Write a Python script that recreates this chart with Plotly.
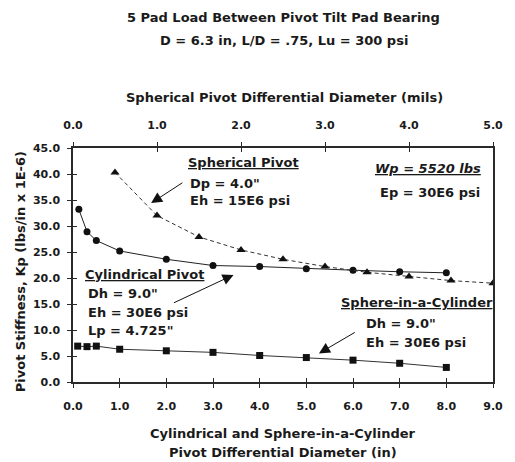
import plotly.graph_objects as go

# ---- data ----
cyl_x = [0.125, 0.3, 0.5, 1.0, 2.0, 3.0, 4.0, 5.0, 6.0, 7.0, 8.0]
cyl_y = [33.2, 28.9, 27.2, 25.2, 23.6, 22.4, 22.2, 21.8, 21.5, 21.2, 21.0]

sph_x = [0.5, 1.0, 1.5, 2.0, 2.5, 3.0, 3.5, 4.0, 4.5, 5.0]
sph_y = [40.3, 32.0, 27.9, 25.4, 23.6, 22.2, 21.1, 20.3, 19.5, 19.0]

sic_x = [0.1, 0.3, 0.5, 1.0, 2.0, 3.0, 4.0, 5.0, 6.0, 7.0, 8.0]
sic_y = [6.9, 6.8, 6.9, 6.3, 6.0, 5.7, 5.1, 4.7, 4.2, 3.6, 2.8]

title1 = "5 Pad Load Between Pivot Tilt Pad Bearing"
title2 = "D = 6.3 in, L/D = .75, Lu = 300 psi"
top_title = "Spherical Pivot Differential Diameter (mils)"
bot_title1 = "Cylindrical and Sphere-in-a-Cylinder"
bot_title2 = "Pivot Differential Diameter (in)"
y_title = "Pivot Stiffness, Kp (lbs/in x 1E-6)"

FONT = "DejaVu Sans"
TXT = "#1a1a1a"
AX = "#2a2a2a"

fig = go.Figure()

fig.add_trace(go.Scatter(x=cyl_x, y=cyl_y, mode="lines+markers",
                         line=dict(color="#222", width=1),
                         marker=dict(symbol="circle", size=7, color="#111"),
                         xaxis="x", yaxis="y", showlegend=False))
fig.add_trace(go.Scatter(x=sic_x, y=sic_y, mode="lines+markers",
                         line=dict(color="#333", width=1),
                         marker=dict(symbol="square", size=7, color="#111"),
                         xaxis="x", yaxis="y", showlegend=False))
fig.add_trace(go.Scatter(x=sph_x, y=sph_y, mode="lines+markers",
                         line=dict(color="#333", width=1, dash="4px,3px"),
                         marker=dict(symbol="triangle-up", size=8, color="#111"),
                         xaxis="x2", yaxis="y", showlegend=False))
# dummy traces for inner tick overlays
fig.add_trace(go.Scatter(x=[None], y=[None], xaxis="x3", yaxis="y2", showlegend=False))
fig.add_trace(go.Scatter(x=[None], y=[None], xaxis="x4", yaxis="y2", showlegend=False))

tickfont = dict(family=FONT, size=11, color=TXT, weight="bold")
common = dict(showgrid=False, zeroline=False, tickfont=tickfont, tickcolor=AX,
              linecolor=AX, linewidth=1.5, tickwidth=1)

fig.update_layout(
    width=515, height=462,
    margin=dict(l=73, r=12, t=148, b=80),
    paper_bgcolor="white", plot_bgcolor="white",
    xaxis=dict(range=[0, 9], dtick=1, tickformat=".1f", showline=True,
               ticks="outside", ticklen=4, ticklabelstandoff=9, **common),
    xaxis2=dict(range=[0, 5], dtick=1, tickformat=".1f", showline=True,
                overlaying="x", side="top", anchor="y",
                ticks="outside", ticklen=4, ticklabelstandoff=9, **common),
    xaxis3=dict(range=[0, 9], dtick=1, overlaying="x", side="bottom", anchor="y2",
                ticks="inside", ticklen=4, showticklabels=False, showline=False,
                showgrid=False, zeroline=False, tickcolor=AX),
    xaxis4=dict(range=[0, 5], dtick=1, overlaying="x", side="top", anchor="y2",
                ticks="inside", ticklen=4, showticklabels=False, showline=False,
                showgrid=False, zeroline=False, tickcolor=AX),
    yaxis=dict(range=[0, 45], dtick=5, tickformat=".1f", showline=True,
               mirror=True, ticks="outside", ticklen=4, ticklabelstandoff=5, **common),
    yaxis2=dict(range=[0, 45], dtick=5, overlaying="y", side="left", anchor="x3",
                ticks="inside", ticklen=4, showticklabels=False, showline=False,
                showgrid=False, zeroline=False, tickcolor=AX),
)

def px_ann(text, x, y, size=13, xanchor="center", **kw):
    fig.add_annotation(text=text, x=x, y=y, xref="paper", yref="paper",
                       xanchor=xanchor, yanchor="middle", showarrow=False,
                       font=dict(family=FONT, size=size, color=TXT, weight="bold"), **kw)

def P(px, py):
    return (px - 73) / 430, (382 - py) / 234

# titles
px_ann(title1, *P(289, 17))
px_ann(title2, *P(289, 40))
px_ann(top_title, *P(290, 97))
px_ann(bot_title1, *P(288, 433))
px_ann(bot_title2, *P(288, 452))
fx, fy = P(19, 272)
px_ann(y_title, fx, fy, textangle=-90)

# in-plot labels
px_ann("<u>Spherical Pivot</u>", *P(189, 162), xanchor="left")
px_ann("Dp = 4.0\"", *P(191, 183), xanchor="left")
px_ann("Eh = 15E6 psi", *P(191, 200), xanchor="left")

px_ann("<u><i>Wp = 5520 lbs</i></u>", *P(380, 168), xanchor="left")
px_ann("Ep = 30E6 psi", *P(385, 192), xanchor="left")

px_ann("<u>Cylindrical Pivot</u>", *P(83, 274), xanchor="left")
px_ann("Dh = 9.0\"", *P(86, 293), xanchor="left")
px_ann("Eh = 30E6 psi", *P(86, 312), xanchor="left")
px_ann("Lp = 4.725\"", *P(86, 330), xanchor="left")

px_ann("<u>Sphere-in-a-Cylinder</u>", *P(345, 302), xanchor="left")
px_ann("Dh = 9.0\"", *P(371, 323), xanchor="left")
px_ann("Eh = 30E6 psi", *P(371, 342), xanchor="left")

# arrows
def arrow(x, y, ax, ay, xref):
    fig.add_annotation(x=x, y=y, ax=ax, ay=ay, xref=xref, yref="y",
                       axref=xref, ayref="y", text="", showarrow=True,
                       arrowhead=2, arrowsize=2.2, arrowwidth=1, arrowcolor="#111")

arrow(0.93, 34.4, 1.32, 38.5, "x2")
arrow(3.44, 20.6, 2.13, 15.1, "x")
arrow(5.27, 5.5, 6.07, 9.7, "x")

fig.write_html("out.html")
